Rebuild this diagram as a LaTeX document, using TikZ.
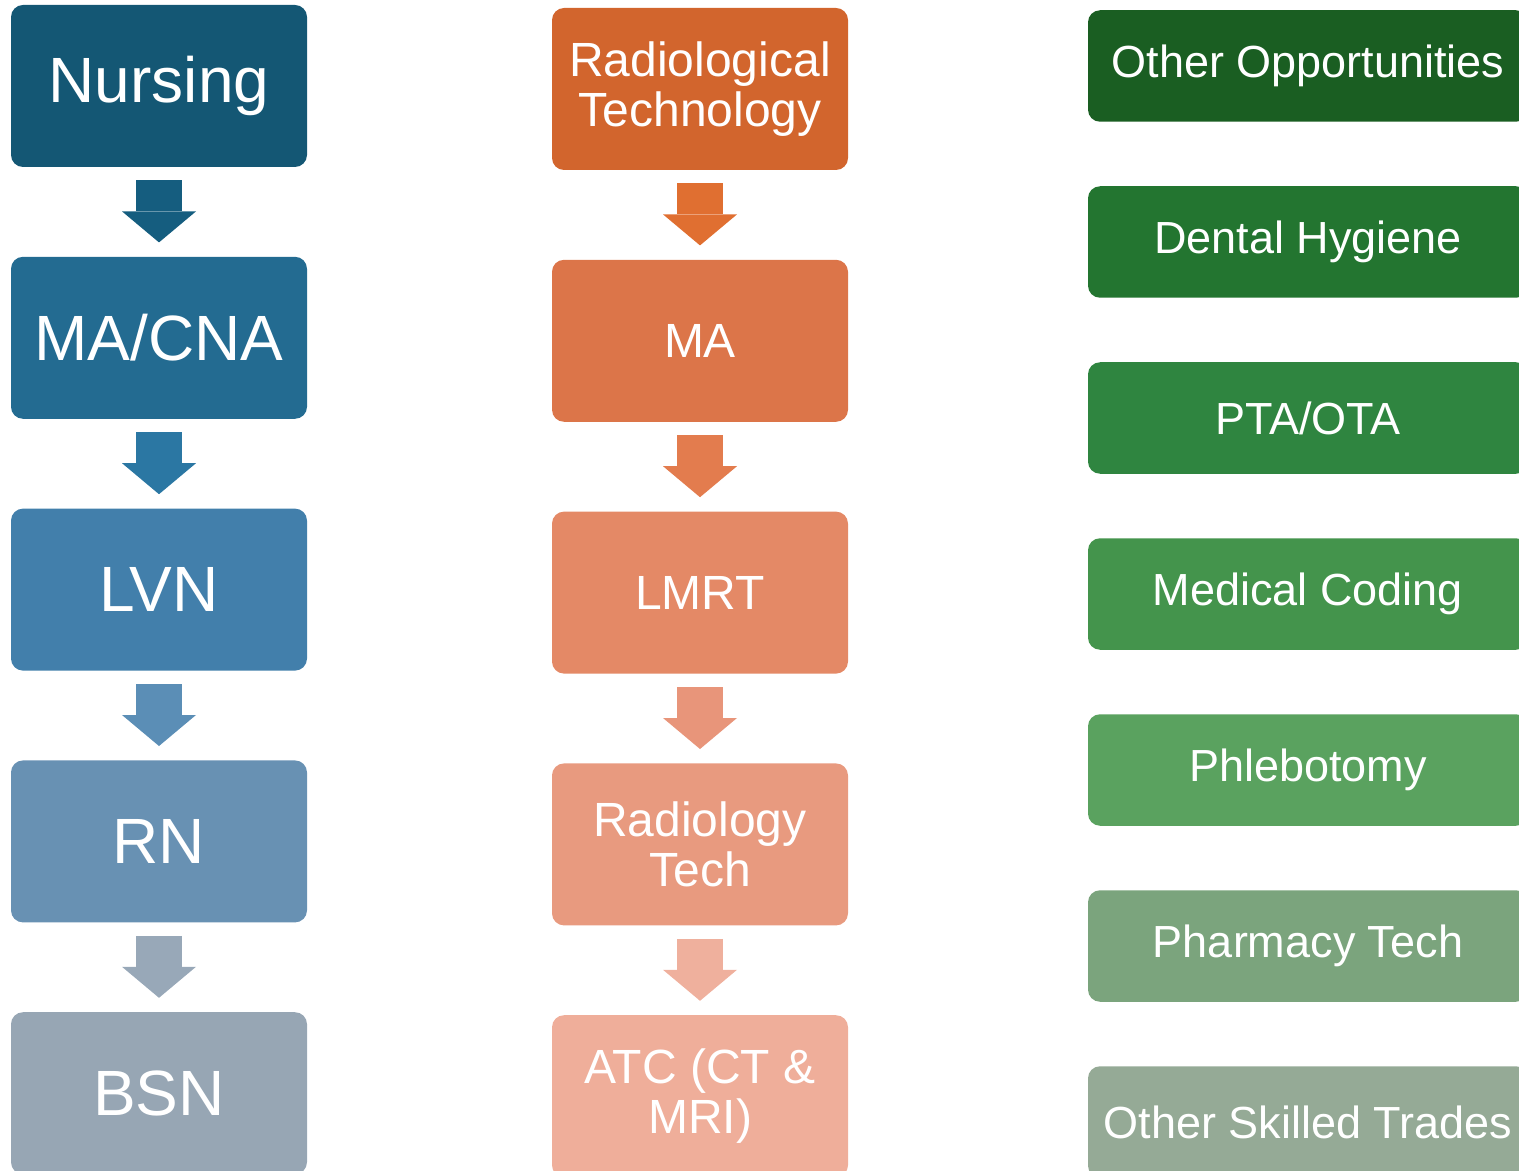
\documentclass[tikz,border=0pt]{standalone}
\usepackage{fontspec}
\setmainfont{Liberation Sans}
\usetikzlibrary{positioning,arrows.meta}

% Colores de cada columna (de oscuro a claro)
\definecolor{azulA}{HTML}{145774}
\definecolor{azulB}{HTML}{236B91}
\definecolor{azulC}{HTML}{427FAB}
\definecolor{azulD}{HTML}{6891B3}
\definecolor{azulE}{HTML}{97A6B4}
\definecolor{flechaAzulA}{HTML}{155D7F}
\definecolor{flechaAzulB}{HTML}{2B77A3}
\definecolor{flechaAzulC}{HTML}{5B8EB6}
\definecolor{flechaAzulD}{HTML}{98A8B8}
\definecolor{naranjaA}{HTML}{D2652D}
\definecolor{naranjaB}{HTML}{DC7549}
\definecolor{naranjaC}{HTML}{E48966}
\definecolor{naranjaD}{HTML}{E89A7F}
\definecolor{naranjaE}{HTML}{EFAE9A}
\definecolor{flechaNarA}{HTML}{E06F31}
\definecolor{flechaNarB}{HTML}{E37C4E}
\definecolor{flechaNarC}{HTML}{E8957A}
\definecolor{flechaNarD}{HTML}{EFB09D}
\definecolor{verdeA}{HTML}{1A5E22}
\definecolor{verdeB}{HTML}{237530}
\definecolor{verdeC}{HTML}{2F8540}
\definecolor{verdeD}{HTML}{44944C}
\definecolor{verdeE}{HTML}{5AA25F}
\definecolor{verdeF}{HTML}{7BA47D}
\definecolor{verdeG}{HTML}{95AA96}

\begin{document}
\begin{tikzpicture}[x=0.5pt, y=-0.5pt, node distance=44.5pt,
    box/.style={rectangle, rounded corners=6pt, text=white, align=center, inner sep=0pt},
    paso/.style={box, minimum width=148pt, minimum height=81pt},
    otro/.style={box, minimum width=220pt, minimum height=55.75pt, font=\fontsize{22.5}{24}\selectfont},
    flecha/.style={line width=23pt, -{Triangle[width=37pt,length=15.5pt,line width=0pt]}, shorten <=6.5pt, shorten >=7pt}]

  \useasboundingbox (0,0) rectangle (1519,1171);
  \clip (0,0) rectangle (1519,1171);

  % Columna de enfermeria
  \node[paso, fill=azulA, font=\fontsize{32}{34}\selectfont] (nursing) at (159,86) {Nursing};
  \node[paso, fill=azulB, font=\fontsize{32}{34}\selectfont, below=of nursing] (macna) {MA/CNA};
  \node[paso, fill=azulC, font=\fontsize{32}{34}\selectfont, below=of macna] (lvn) {LVN};
  \node[paso, fill=azulD, font=\fontsize{32}{34}\selectfont, below=of lvn] (rn) {RN};
  \node[paso, fill=azulE, font=\fontsize{32}{34}\selectfont, below=of rn] (bsn) {BSN};

  % Columna de radiologia
  \node[paso, fill=naranjaA, font=\fontsize{24}{25}\selectfont] (radtech) at (700,89) {Radiological\\Technology};
  \node[paso, fill=naranjaB, font=\fontsize{24}{25}\selectfont, below=of radtech] (ma) {MA};
  \node[paso, fill=naranjaC, font=\fontsize{24}{25}\selectfont, below=of ma] (lmrt) {LMRT};
  \node[paso, fill=naranjaD, font=\fontsize{24}{25}\selectfont, below=of lmrt] (radiotech) {Radiology\\Tech};
  \node[paso, fill=naranjaE, font=\fontsize{24}{25}\selectfont, below=of radiotech] (atc) {ATC (CT \&\\MRI)};

  % Otras opciones (sin flechas)
  \node[otro, fill=verdeA] (otheropp) at (1308,66) {Other Opportunities};
  \node[otro, fill=verdeB, below=31.85pt of otheropp] (dental) {Dental Hygiene};
  \node[otro, fill=verdeC, below=31.85pt of dental] (ptaota) {PTA/OTA};
  \node[otro, fill=verdeD, below=31.85pt of ptaota] (coding) {Medical Coding};
  \node[otro, fill=verdeE, below=31.85pt of coding] (phlebo) {Phlebotomy};
  \node[otro, fill=verdeF, below=31.85pt of phlebo] (pharmacy) {Pharmacy Tech};
  \node[otro, fill=verdeG, below=31.85pt of pharmacy] (trades) {Other Skilled Trades};

  % Flechas de bloque entre pasos
  \draw[flecha, flechaAzulA] (nursing) -- (macna);
  \draw[flecha, flechaAzulB] (macna) -- (lvn);
  \draw[flecha, flechaAzulC] (lvn) -- (rn);
  \draw[flecha, flechaAzulD] (rn) -- (bsn);

  \draw[flecha, flechaNarA] (radtech) -- (ma);
  \draw[flecha, flechaNarB] (ma) -- (lmrt);
  \draw[flecha, flechaNarC] (lmrt) -- (radiotech);
  \draw[flecha, flechaNarD] (radiotech) -- (atc);

\end{tikzpicture}
\end{document}
